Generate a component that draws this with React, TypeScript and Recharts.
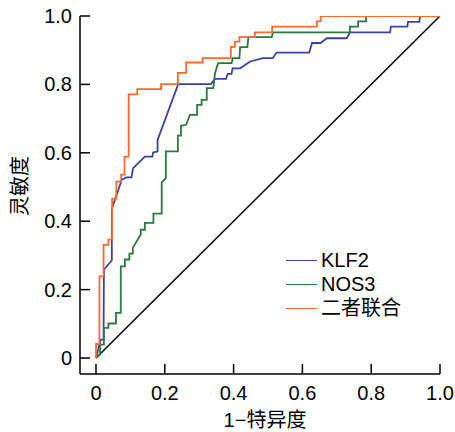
import React from "react"
import { LineChart, Line, XAxis, YAxis } from "recharts"

// ROC points as [1-特异度, 灵敏度]
const klf2Points: [number, number][] = [
  [0, 0], [0.014, 0.054], [0.022, 0.054], [0.023, 0.258], [0.046, 0.286],
  [0.046, 0.436], [0.075, 0.521], [0.088, 0.528], [0.103, 0.528], [0.108, 0.555],
  [0.142, 0.589], [0.164, 0.589], [0.166, 0.601], [0.179, 0.604], [0.179, 0.638],
  [0.239, 0.801], [0.334, 0.801], [0.346, 0.816], [0.378, 0.816], [0.383, 0.831],
  [0.394, 0.831], [0.397, 0.847], [0.419, 0.847], [0.448, 0.867], [0.485, 0.877],
  [0.514, 0.877], [0.525, 0.893], [0.62, 0.893], [0.628, 0.921], [0.653, 0.921],
  [0.671, 0.935], [0.729, 0.935], [0.738, 0.952], [0.855, 0.952], [0.857, 0.969],
  [0.905, 0.969], [0.907, 0.983], [0.94, 0.983], [0.942, 1], [1, 1],
]

const nos3Points: [number, number][] = [
  [0, 0], [0.012, 0.01], [0.012, 0.039], [0.023, 0.039], [0.023, 0.088],
  [0.036, 0.088], [0.036, 0.101], [0.058, 0.101], [0.058, 0.132], [0.072, 0.132],
  [0.072, 0.268], [0.084, 0.268], [0.084, 0.288], [0.097, 0.288], [0.097, 0.305],
  [0.107, 0.305], [0.107, 0.322], [0.13, 0.361], [0.13, 0.375], [0.142, 0.375],
  [0.142, 0.395], [0.167, 0.395], [0.167, 0.422], [0.191, 0.422], [0.191, 0.513],
  [0.203, 0.526], [0.203, 0.604], [0.238, 0.604], [0.238, 0.65], [0.247, 0.65],
  [0.247, 0.679], [0.262, 0.682], [0.273, 0.711], [0.294, 0.711], [0.294, 0.74],
  [0.307, 0.74], [0.307, 0.755], [0.322, 0.755], [0.322, 0.789], [0.341, 0.789],
  [0.346, 0.833], [0.355, 0.862], [0.394, 0.862], [0.398, 0.877], [0.417, 0.877],
  [0.419, 0.909], [0.44, 0.909], [0.443, 0.938], [0.511, 0.938], [0.514, 0.952],
  [0.738, 0.952], [0.738, 0.969], [0.762, 0.969], [0.762, 0.984], [0.785, 0.984],
  [0.785, 1], [1, 1],
]

const combinedPoints: [number, number][] = [
  [0, 0], [0, 0.041], [0.01, 0.041], [0.01, 0.239], [0.022, 0.239],
  [0.022, 0.331], [0.036, 0.331], [0.036, 0.346], [0.047, 0.346], [0.047, 0.466],
  [0.059, 0.466], [0.059, 0.516], [0.073, 0.516], [0.073, 0.536], [0.083, 0.536],
  [0.083, 0.589], [0.095, 0.589], [0.095, 0.771], [0.12, 0.771], [0.12, 0.786],
  [0.189, 0.786], [0.189, 0.801], [0.238, 0.801], [0.238, 0.834], [0.262, 0.834],
  [0.262, 0.864], [0.31, 0.864], [0.31, 0.877], [0.392, 0.877], [0.392, 0.91],
  [0.404, 0.91], [0.404, 0.925], [0.417, 0.925], [0.417, 0.938], [0.462, 0.938],
  [0.462, 0.952], [0.512, 0.952], [0.512, 0.969], [0.642, 0.969], [0.642, 0.984],
  [0.653, 0.984], [0.653, 1], [1, 1],
]

const referencePoints: [number, number][] = [[0, 0], [1, 1]]

const xTicks = [0, 0.2, 0.4, 0.6, 0.8, 1.0]
const yTicks = [0, 0.2, 0.4, 0.6, 0.8, 1.0]
const tickText = (v: number) => (v === 0 ? "0" : v.toFixed(1))

const series = [
  { name: "KLF2", points: klf2Points, color: "#3c42a3" },
  { name: "NOS3", points: nos3Points, color: "#2a7a3c" },
  { name: "二者联合", points: combinedPoints, color: "#ff6a30" },
]

const toRows = (pts: [number, number][]) => pts.map(([x, y]) => ({ x, y }))

const font = "'Liberation Sans', Arial, 'Noto Sans CJK SC', sans-serif"

function XTick(props: any) {
  const { x, y, payload } = props
  return (
    <g>
      <line x1={x} x2={x} y1={y} y2={y - 10} stroke="#000" strokeWidth={1.5} />
      <text x={x} y={y + 26} textAnchor="middle" fontSize={20} fontFamily={font} fill="#000">
        {tickText(payload.value)}
      </text>
    </g>
  )
}

function YTick(props: any) {
  const { x, y, payload } = props
  return (
    <g>
      <line x1={x + 8} x2={x + 18} y1={y} y2={y} stroke="#000" strokeWidth={1.5} />
      <text x={x} y={y + 7} textAnchor="end" fontSize={20} fontFamily={font} fill="#000">
        {tickText(payload.value)}
      </text>
    </g>
  )
}

export default function App() {
  return (
    <div style={{ position: "absolute", left: 0, top: 0, width: 455, height: 432, background: "#fff" }}>
      <LineChart width={455} height={432} margin={{ top: 16, right: 15, bottom: 0, left: 0 }}>
        <XAxis
          type="number"
          dataKey="x"
          domain={[-0.0465, 1]}
          ticks={xTicks}
          allowDataOverflow
          height={58}
          tickSize={0}
          tickMargin={0}
          tickLine={false}
          axisLine={{ stroke: "#000", strokeWidth: 1.5 }}
          tick={<XTick />}
          interval={0}
        />
        <YAxis
          type="number"
          dataKey="y"
          domain={[-0.0467, 1]}
          ticks={yTicks}
          allowDataOverflow
          width={80}
          tickSize={0}
          tickMargin={8}
          tickLine={false}
          axisLine={{ stroke: "#000", strokeWidth: 1.5 }}
          tick={<YTick />}
          interval={0}
        />
        <Line
          data={toRows(referencePoints)}
          dataKey="y"
          type="linear"
          stroke="#000"
          strokeWidth={1.5}
          dot={false}
          legendType="none"
          isAnimationActive={false}
        />
        {series.map((s) => (
          <Line
            key={s.name}
            name={s.name}
            data={toRows(s.points)}
            dataKey="y"
            type="linear"
            stroke={s.color}
            strokeWidth={1.8}
            dot={false}
            isAnimationActive={false}
          />
        ))}
        <text x={265} y={427} textAnchor="middle" fontSize={20} fontFamily={font} fill="#000">
          1−特异度
        </text>
        <text
          x={27}
          y={186}
          textAnchor="middle"
          fontSize={20}
          fontFamily={font}
          fill="#000"
          transform="rotate(-90 27 186)"
        >
          灵敏度
        </text>
      </LineChart>
      <div
        style={{
          position: "absolute",
          left: 286,
          top: 248,
          fontFamily: font,
          fontSize: 20,
          lineHeight: "24px",
          color: "#000",
        }}
      >
        {series.map((s) => (
          <div key={s.name} style={{ display: "flex", alignItems: "center", height: 24 }}>
            <span
              style={{
                display: "inline-block",
                width: 31,
                height: 0,
                borderTop: `1.5px solid ${s.color}`,
                marginRight: 4,
              }}
            />
            <span>{s.name}</span>
          </div>
        ))}
      </div>
    </div>
  )
}
